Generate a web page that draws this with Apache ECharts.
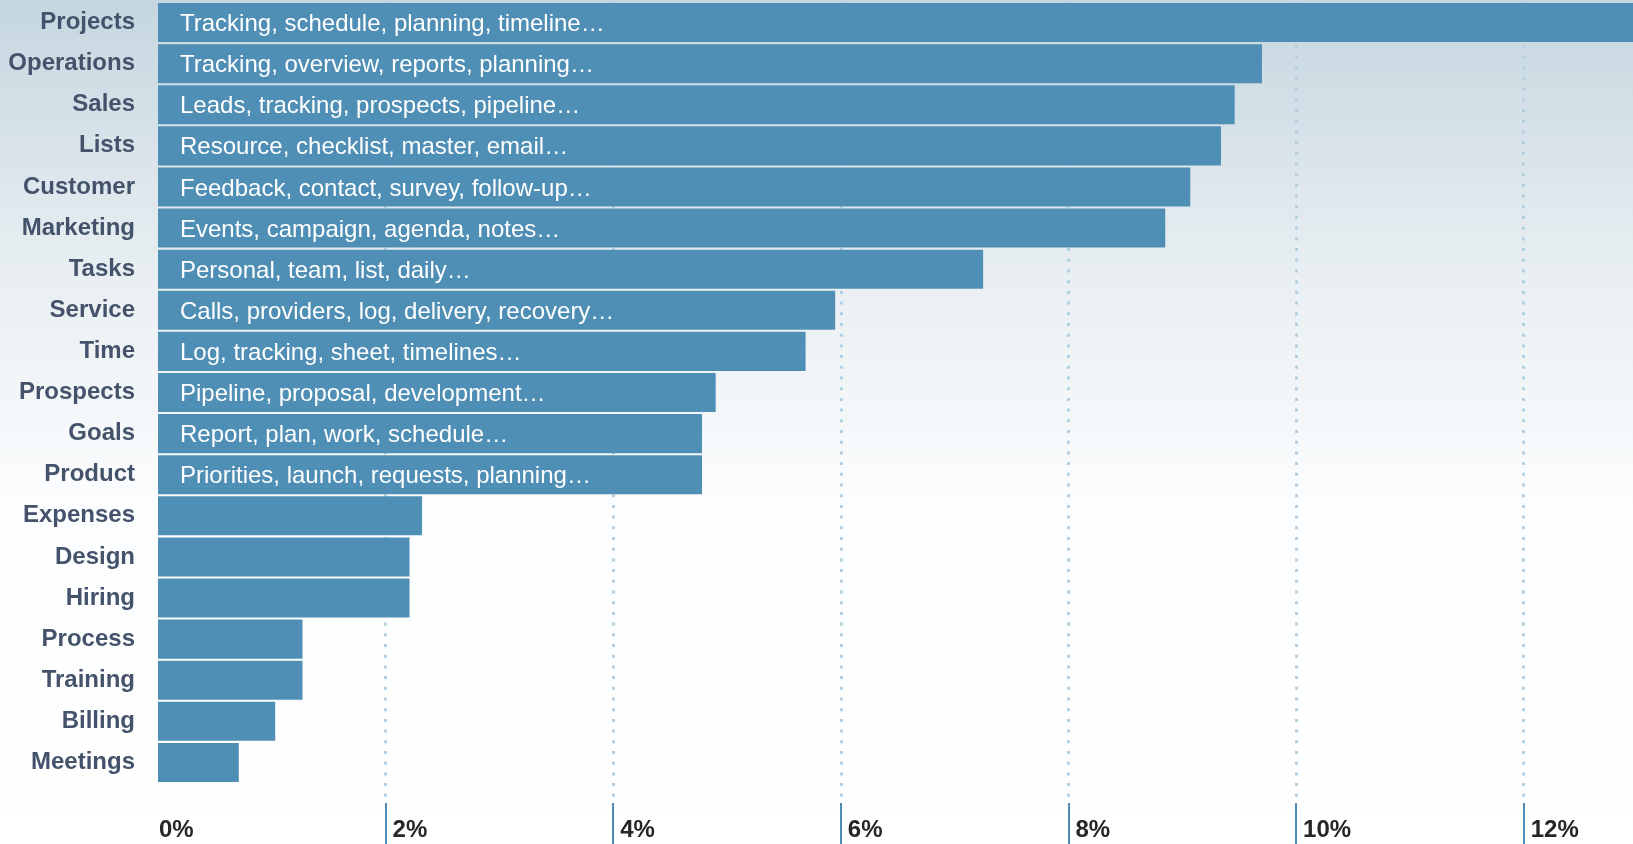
<!DOCTYPE html>
<html>
<head>
<meta charset="utf-8">
<script src="https://cdn.jsdelivr.net/npm/echarts@6/dist/echarts.min.js"></script>
<style>
html,body{margin:0;padding:0;width:1633px;height:844px;overflow:hidden;}
#chart{width:1633px;height:844px;}
</style>
</head>
<body>
<div id="chart"></div>
<script>
const categories = ['Projects','Operations','Sales','Lists','Customer','Marketing','Tasks','Service','Time','Prospects','Goals','Product','Expenses','Design','Hiring','Process','Training','Billing','Meetings'];
const shares = [13.2, 9.70, 9.46, 9.34, 9.07, 8.85, 7.25, 5.95, 5.69, 4.90, 4.78, 4.78, 2.32, 2.21, 2.21, 1.27, 1.27, 1.03, 0.71];
const descriptions = [
  'Tracking, schedule, planning, timeline…',
  'Tracking, overview, reports, planning…',
  'Leads, tracking, prospects, pipeline…',
  'Resource, checklist, master, email…',
  'Feedback, contact, survey, follow-up…',
  'Events, campaign, agenda, notes…',
  'Personal, team, list, daily…',
  'Calls, providers, log, delivery, recovery…',
  'Log, tracking, sheet, timelines…',
  'Pipeline, proposal, development…',
  'Report, plan, work, schedule…',
  'Priorities, launch, requests, planning…',
  '', '', '', '', '', '', ''
];
const tickValues = [0, 2, 4, 6, 8, 10, 12];

const FONT = '"Liberation Sans", Arial, sans-serif';
const BAR = '#508fb5';
const XMAX = 12.96;

const chart = echarts.init(document.getElementById('chart'));
chart.setOption({
  animation: false,
  backgroundColor: new echarts.graphic.LinearGradient(0, 0, 0, 1, [
    {offset: 0, color: '#c5d6e0'},
    {offset: 0.3, color: '#e6edf1'},
    {offset: 0.6, color: '#fcfdfe'},
    {offset: 1, color: '#ffffff'}
  ]),
  grid: [
    {left: 158, right: 0, top: 2, bottom: 61},
    {left: 158, right: 0, top: 2, bottom: 41}
  ],
  xAxis: [
    {gridIndex: 0, type: 'value', min: 0, max: XMAX, show: false},
    {
      gridIndex: 1, type: 'value', min: 0, max: XMAX, interval: 2,
      axisLine: {show: false},
      axisTick: {show: true, length: 41, customValues: tickValues.filter(v => v > 0),
        lineStyle: {color: '#4f8fb5', width: 2}},
      splitLine: {show: true,
        lineStyle: {color: '#b3d0e2', width: 3, type: [3, 7.7]}},
      axisLabel: {
        customValues: tickValues,
        align: 'left', margin: 15,
        fontFamily: FONT, fontSize: 24, fontWeight: 'bold', color: '#262626',
        formatter: v => v === 0 ? '{z|0%}' : '{a|' + v + '%}',
        rich: {
          z: {fontFamily: FONT, fontSize: 24, fontWeight: 'bold', color: '#262626', padding: [0, 0, 0, 1]},
          a: {fontFamily: FONT, fontSize: 24, fontWeight: 'bold', color: '#262626', padding: [0, 0, 0, 7]}
        }
      }
    }
  ],
  yAxis: [
    {
      gridIndex: 0, type: 'category', inverse: true, data: categories,
      axisLine: {show: false}, axisTick: {show: false}, splitLine: {show: false},
      axisLabel: {fontFamily: FONT, fontSize: 24, fontWeight: 'bold', color: '#44536b', margin: 23,
        padding: [2, 0, 0, 0]}
    },
    {gridIndex: 1, type: 'value', show: false}
  ],
  series: [{
    type: 'bar',
    xAxisIndex: 0, yAxisIndex: 0,
    data: shares,
    barCategoryGap: '5%',
    clip: true,
    itemStyle: {color: BAR},
    label: {
      show: true, position: 'insideLeft', distance: 22, offset: [0, 2],
      fontFamily: FONT, fontSize: 24, color: '#ffffff',
      formatter: p => descriptions[p.dataIndex]
    }
  }]
});
</script>
</body>
</html>
